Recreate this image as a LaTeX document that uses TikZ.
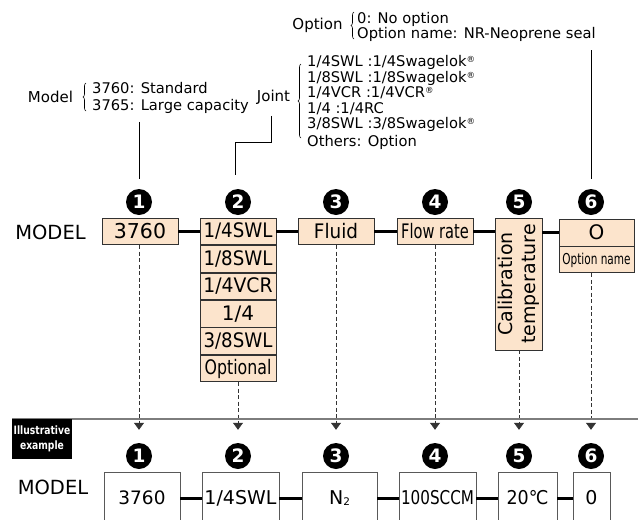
\documentclass[tikz,border=0pt]{standalone}
\usepackage{fontspec}
\setmainfont{DejaVu Sans}
\usepackage{graphicx}
\usetikzlibrary{positioning,arrows.meta,decorations.pathreplacing}
\definecolor{peach}{RGB}{252,228,204}
\definecolor{boxline}{RGB}{50,50,50}
\definecolor{rulegray}{RGB}{125,125,125}
\newcommand{\fsz}[1]{\fontsize{#1}{#1}\selectfont}
\newcommand{\sq}[2]{\scalebox{#1}[1]{#2}}
\newcommand{\regmk}{\raisebox{0.45ex}{\fontsize{8.5}{8.5}\selectfont ®}}

\begin{document}
\begin{tikzpicture}[x=1pt,y=-1pt,
  codebox/.style={draw=boxline,fill=peach,line width=0.9pt,inner sep=0pt,minimum width=76pt,minimum height=26.5pt,font=\fsz{20}},
  samplebox/.style={draw=black!65,fill=white,line width=0.8pt,inner sep=0pt,minimum height=52pt,font=\fsz{19}},
  numdot/.style={circle,fill=black,text=white,inner sep=0pt,minimum size=26pt,font=\bfseries\fsz{18.5}},
  link/.style={line width=3.8pt},
  drop/.style={black!80,line width=0.8pt,dash pattern=on 4pt off 2.5pt,-{Triangle[width=10pt,length=7pt]}},
  lead/.style={line width=0.8pt},
  curly/.style={line width=0.6pt,decorate,decoration={brace,amplitude=3pt}},
  ann/.style={inner sep=0pt,font=\fsz{15}}]
  \useasboundingbox (0,0) rectangle (638,520);
  \clip (0,0) rectangle (638,520);
  \fill[white] (0,0) rectangle (638,520);

  % annotations
  \node[ann] (modellbl) at (50.5,97) {Model};
  \draw[curly] (86,111) -- (86,83);
  \node[ann,anchor=west,align=left,font=\fontsize{14.7}{17}\selectfont] (mlist) at (92,98) {3760: Standard\\3765: Large capacity};
  \node[ann] (jointlbl) at (273.5,97) {Joint};
  \draw[curly] (301,138) -- (301,64);
  \node[ann,anchor=west,align=left,font=\fontsize{14.7}{15.5}\selectfont] (jlist) at (307,102.5)
    {1/4SWL :1/4Swagelok\regmk\\1/8SWL :1/8Swagelok\regmk\\1/4VCR :1/4VCR\regmk\\1/4 :1/4RC\\3/8SWL :3/8Swagelok\regmk\\[2.5pt]Others: Option};
  \node[ann] (optlbl) at (317.5,25.5) {Option};
  \draw[curly] (354,39) -- (354,12);
  \node[ann,anchor=west,align=left,font=\fontsize{14.7}{15}\selectfont] (olist) at (357,26.5) {0: No option\\Option name: NR-Neoprene seal};

  % code row
  \node[font=\fsz{19.5}] (mdl) at (50.5,232) {MODEL};
  \foreach \n/\x in {1/139,2/238,3/336,4/435,5/519,6/591}{
    \node[numdot] (c\n) at (\x,202) {\n};
    \node[numdot] (e\n) at (\x,456) {\n};
  }
  \node[codebox,font=\fsz{20.5}] (m1) at (140,231.5) {3760};
  \node[codebox] (j1) at (238,231.5) {\sq{0.91}{1/4SWL}};
  \node[codebox,below=0pt of j1] (j2) {\sq{0.91}{1/8SWL}};
  \node[codebox,below=0pt of j2] (j3) {\sq{0.94}{1/4VCR}};
  \node[codebox,below=0pt of j3] (j4) {1/4};
  \node[codebox,below=0pt of j4] (j5) {\sq{0.91}{3/8SWL}};
  \node[codebox,below=0pt of j5] (j6) {\sq{0.79}{Optional}};
  \node[codebox] (fl) at (336,231.5) {\sq{0.92}{Fluid}};
  \node[codebox] (fr) at (435,231.5) {\sq{0.73}{Flow rate}};
  \node[codebox,rotate=90,minimum width=132pt,minimum height=47pt,align=center,font=\fontsize{19}{23}\selectfont] (ct) at (518.5,284) {Calibration\\temperature};
  \node[codebox,minimum width=75pt,minimum height=27pt] (o1) at (596.5,232.5) {O};
  \node[codebox,minimum width=75pt,minimum height=26pt,below=0pt of o1,font=\fsz{15}] (on) {\sq{0.7}{Option name}};
  \draw[link] (m1.east) -- (j1.west);
  \draw[link] (j1.east) -- (fl.west);
  \draw[link] (fl.east) -- (fr.west);
  \draw[link] (fr.east) -- (fr.east -| ct.north);
  \draw[link] (o1.west -| ct.south) -- (o1.west);

  % leaders
  \draw[lead] ([yshift=-8pt]mlist.south -| c1) -- ([yshift=10pt]c1.north);
  \draw[lead] ([xshift=-2.5pt,yshift=-11.5pt]jointlbl.south) |- ([xshift=-3pt,yshift=46pt]c2.north) -- ([xshift=-3pt,yshift=14pt]c2.north);
  \draw[lead] (c6 |- 0,50) -- ([yshift=10pt]c6.north);

  % drops
  \foreach \b/\n in {m1/1,j6/2,fl/3,fr/4,on/6}
    \draw[drop] (c\n |- \b.south) -- ([yshift=13pt]e\n.north);
  \draw[drop] (c5 |- ct.west) -- ([yshift=13pt]e5.north);

  % example
  \draw[rulegray,line width=1.2pt] (12,419) -- (638,419);
  \node[fill=black,text=white,minimum width=60pt,minimum height=40pt,inner sep=0pt,align=center,font=\bfseries\fontsize{11.5}{14.5}\selectfont] (illus) at (42,439) {\sq{0.8}{Illustrative}\\\sq{0.8}{example}};
  \node[font=\fsz{19.5}] (mdl2) at (53,487) {MODEL};
  \node[samplebox,minimum width=76pt,font=\fsz{18.5}] (s1) at (142,498) {3760};
  \node[samplebox,minimum width=77pt] (s2) at (240.5,498) {1/4SWL};
  \node[samplebox,minimum width=75pt] (s3) at (339.5,498) {N\raisebox{-1pt}{\fsz{10.5}2}};
  \node[samplebox,minimum width=77pt] (s4) at (437.5,498) {\sq{0.8}{100SCCM}};
  \node[samplebox,minimum width=59pt] (s5) at (527.5,498) {\sq{0.92}{20℃}};
  \node[samplebox,minimum width=37pt] (s6) at (591.5,498) {0};
  \foreach \a/\b in {s1/s2,s2/s3,s3/s4,s4/s5,s5/s6}
    \draw[line width=3pt] (\a.east) -- (\b.west);
\end{tikzpicture}
\end{document}
